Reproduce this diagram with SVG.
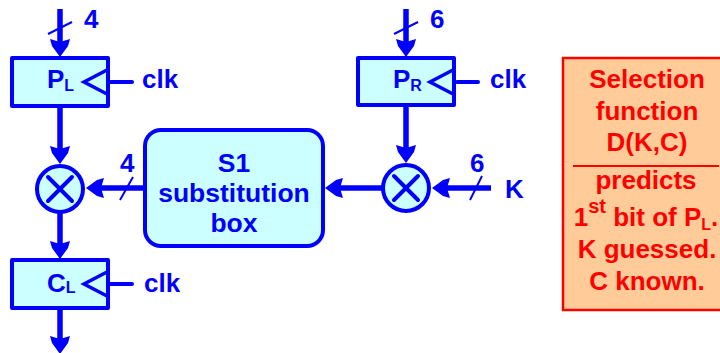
<svg xmlns="http://www.w3.org/2000/svg" width="720" height="353" viewBox="0 0 720 353">
<style>
text{font-family:"Liberation Sans",Arial,sans-serif;font-weight:700;font-size:26px;fill:#0000ff}
.m{text-anchor:middle;font-size:26.5px}
.s{font-size:16px}
.r{fill:#ff0000;text-anchor:middle}
.box{fill:#ccffff;stroke:#0000ff;stroke-width:4;stroke-linejoin:round}
.mark{fill:none;stroke:#0000ff;stroke-width:4;stroke-linecap:round;stroke-linejoin:miter}
.clk{fill:none;stroke:#0000ff;stroke-width:3.5;stroke-linejoin:miter}
.c line.w{stroke:#0000ff;stroke-width:5.5;fill:none}
.c line.a{marker-end:url(#h)}
.t{stroke:#0000ff;stroke-width:2;fill:none}
</style>
<defs>
<marker id="h" markerUnits="userSpaceOnUse" markerWidth="18" markerHeight="20" refX="3" refY="10" orient="auto">
<path d="M0,0 L7,2 L18,10 L7,18 L0,20 L3,10 Z" fill="#0000ff"/>
</marker>
</defs>
<g id="selection-function">
<rect x="563" y="58" width="160" height="252" fill="#ffcc99" stroke="#ff0000" stroke-width="2.5"/>
<line x1="573" y1="166" x2="719" y2="166" stroke="#ff0000" stroke-width="2"/>
<text class="r" x="647" y="88">Selection</text>
<text class="r" x="647" y="120">function</text>
<text class="r" x="647" y="151">D(K,C)</text>
<text class="r" x="646" y="189">predicts</text>
<text class="r" x="646" y="226">1<tspan font-size="20" dy="-13">st</tspan><tspan dy="13"> bit of P</tspan><tspan font-size="16" dy="4">L</tspan><tspan dy="-4">.</tspan></text>
<text class="r" x="647" y="258">K guessed.</text>
<text class="r" x="647" y="290">C known.</text>
</g>
<g id="PL">
<rect class="box" x="12" y="58" width="96" height="48"/>
<path class="clk" d="M107,70 L84,82 L107,94"/>
<line class="mark" x1="110" y1="82" x2="132" y2="82"/>
<text x="47" y="88">P<tspan class="s" dy="3">L</tspan></text>
<text x="142" y="88">clk</text>
</g>
<g id="PR">
<rect class="box" x="358" y="58" width="96" height="47"/>
<path class="clk" d="M453,70 L430,82 L453,94"/>
<line class="mark" x1="457" y1="82" x2="478" y2="82"/>
<text x="393" y="88">P<tspan class="s" dy="3">R</tspan></text>
<text x="490" y="88">clk</text>
</g>
<g id="CL">
<rect class="box" x="12" y="260" width="96" height="48"/>
<path class="clk" d="M107,272 L84,284 L107,296"/>
<line class="mark" x1="110" y1="284" x2="132" y2="284"/>
<text x="47" y="292">C<tspan class="s" dy="1">L</tspan></text>
<text x="144" y="292">clk</text>
</g>
<g id="xor-left">
<circle class="box" cx="60" cy="189" r="23"/>
<path class="mark" d="M48,177 L72,201 M72,177 L48,201"/>
</g>
<g id="xor-right">
<circle class="box" cx="406" cy="188" r="23"/>
<path class="mark" d="M394,176 L418,200 M418,176 L394,200"/>
</g>
<g id="S1">
<rect class="box" x="145" y="130" width="178" height="116" rx="16"/>
<text class="m" x="234" y="172">S1</text>
<text class="m" x="234" y="202">substitution</text>
<text class="m" x="234" y="232">box</text>
</g>
<g id="connectors" class="c">
<line class="w a" x1="60" y1="9" x2="60" y2="42"/>
<line class="w a" x1="60" y1="107" x2="60" y2="149"/>
<line class="w a" x1="60" y1="213" x2="60" y2="244"/>
<line class="w a" x1="60" y1="308" x2="60" y2="339"/>
<line class="w a" x1="406" y1="9" x2="406" y2="42"/>
<line class="w a" x1="406" y1="105" x2="406" y2="148"/>
<line class="w a" x1="143" y1="188" x2="101" y2="188"/>
<line class="w a" x1="382" y1="188" x2="340" y2="188"/>
<line class="w a" x1="491" y1="188" x2="447" y2="188"/>
<line class="t" x1="48" y1="34" x2="72" y2="22"/>
<line class="t" x1="394" y1="34" x2="418" y2="22"/>
<line class="t" x1="120" y1="200" x2="133" y2="177"/>
<line class="t" x1="470" y1="200" x2="482" y2="176"/>
</g>
<g id="labels">
<text x="84" y="28">4</text>
<text x="430" y="28">6</text>
<text x="120" y="172">4</text>
<text x="470" y="172">6</text>
<text x="505" y="198">K</text>
</g>
</svg>
